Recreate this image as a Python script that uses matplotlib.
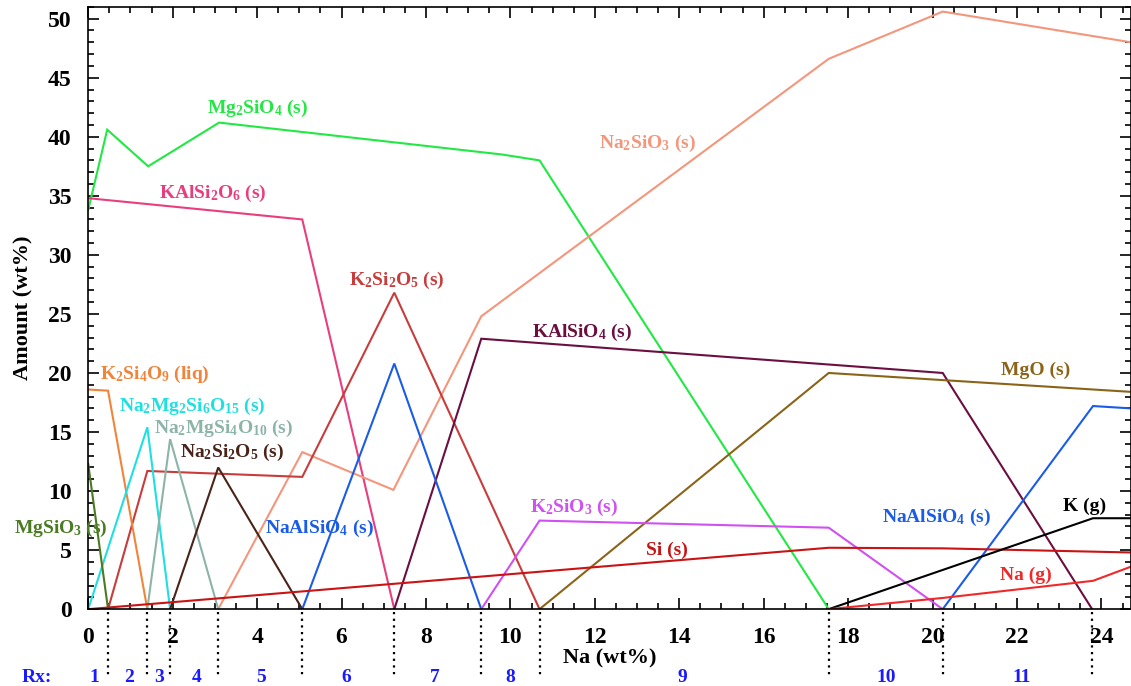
import matplotlib
matplotlib.use("Agg")
import matplotlib.pyplot as plt
import matplotlib.transforms as mtransforms

plt.rcParams['font.family'] = ['Liberation Serif', 'DejaVu Serif']
plt.rcParams['font.weight'] = 'bold'
plt.rcParams['mathtext.fontset'] = 'custom'
plt.rcParams['mathtext.rm'] = 'Liberation Serif:bold'
plt.rcParams['mathtext.bf'] = 'Liberation Serif:bold'
plt.rcParams['mathtext.it'] = 'Liberation Serif:bold'
plt.rcParams['mathtext.default'] = 'rm'

# ---- data (Na wt% vs amount wt%) ----
mg2sio4_x = [0.0, 0.45, 1.42, 3.10, 9.80, 10.69, 17.54]
mg2sio4_y = [33.8, 40.6, 37.5, 41.2, 38.5, 38.0, 0.0]

kalsi2o6_x = [0.0, 5.07, 7.25]
kalsi2o6_y = [34.8, 33.0, 0.0]

na2sio3_x = [3.08, 5.07, 7.23, 9.31, 17.54, 20.24, 24.7]
na2sio3_y = [0.0, 13.3, 10.1, 24.8, 46.6, 50.6, 48.0]

k2si2o5_x = [0.47, 1.40, 5.07, 7.25, 10.69]
k2si2o5_y = [0.0, 11.7, 11.2, 26.8, 0.0]

k2si4o9_x = [0.0, 0.47, 1.40]
k2si4o9_y = [18.6, 18.5, 0.0]

na2mg2si6o15_x = [0.0, 1.40, 1.94]
na2mg2si6o15_y = [0.0, 15.4, 0.0]

na2mgsi4o10_x = [1.40, 1.94, 3.08]
na2mgsi4o10_y = [0.0, 14.4, 0.0]

na2si2o5_x = [1.94, 3.08, 5.07]
na2si2o5_y = [0.0, 12.0, 0.0]

mgsio3_x = [0.0, 0.47]
mgsio3_y = [12.3, 0.0]

naalsio4_a_x = [5.07, 7.25, 9.31]
naalsio4_a_y = [0.0, 20.8, 0.0]
naalsio4_b_x = [20.24, 23.80, 24.7]
naalsio4_b_y = [0.0, 17.2, 17.0]

kalsio4_x = [7.25, 9.31, 20.24, 23.78]
kalsio4_y = [0.0, 22.9, 20.0, 0.0]

k2sio3_x = [9.31, 10.69, 17.54, 20.24]
k2sio3_y = [0.0, 7.5, 6.9, 0.0]

si_x = [0.0, 17.54, 20.24, 24.7]
si_y = [0.0, 5.2, 5.15, 4.8]

mgo_x = [10.69, 17.54, 24.7]
mgo_y = [0.0, 20.0, 18.4]

k_g_x = [17.54, 23.80, 24.7]
k_g_y = [0.0, 7.7, 7.7]

na_g_x = [17.54, 20.24, 23.80, 24.7]
na_g_y = [0.0, 0.95, 2.4, 3.6]

rx_bounds = [0.47, 1.40, 1.94, 3.08, 5.07, 7.24, 9.31, 10.69, 17.54, 20.24, 23.78]
rx_labels = ['1', '2', '3', '4', '5', '6', '7', '8', '9', '10', '11']
rx_label_x = [0.14, 0.97, 1.68, 2.56, 4.1, 6.11, 8.2, 10.0, 14.08, 18.9, 22.1]

x_ticks = [0, 2, 4, 6, 8, 10, 12, 14, 16, 18, 20, 22, 24]
y_ticks = [0, 5, 10, 15, 20, 25, 30, 35, 40, 45, 50]

series = [
    (mg2sio4_x, mg2sio4_y, '#22e844', r'Mg$_2$SiO$_4$ (s)', 4.0, 42.4),
    (kalsi2o6_x, kalsi2o6_y, '#e83e7e', r'KAlSi$_2$O$_6$ (s)', 2.94, 35.2),
    (na2sio3_x, na2sio3_y, '#f4967c', r'Na$_2$SiO$_3$ (s)', 13.25, 39.4),
    (k2si2o5_x, k2si2o5_y, '#c83c3c', r'K$_2$Si$_2$O$_5$ (s)', 7.3, 27.8),
    (kalsio4_x, kalsio4_y, '#6a0f40', r'KAlSiO$_4$ (s)', 11.7, 23.4),
    (mgo_x, mgo_y, '#8a6418', r'MgO (s)', 22.44, 20.2),
    (k2si4o9_x, k2si4o9_y, '#f0843a', r'K$_2$Si$_4$O$_9$ (liq)', 1.59, 19.9),
    (na2mg2si6o15_x, na2mg2si6o15_y, '#1ee0e0', r'Na$_2$Mg$_2$Si$_6$O$_{15}$ (s)', 2.46, 17.2),
    (na2mgsi4o10_x, na2mgsi4o10_y, '#8cb4a8', r'Na$_2$MgSi$_4$O$_{10}$ (s)', 3.2, 15.3),
    (na2si2o5_x, na2si2o5_y, '#4a2418', r'Na$_2$Si$_2$O$_5$ (s)', 3.41, 13.3),
    (mgsio3_x, mgsio3_y, '#4a7a22', r'MgSiO$_3$ (s)', -0.64, 6.8),
    (naalsio4_a_x, naalsio4_a_y, '#1a5ce8', r'NaAlSiO$_4$ (s)', 5.47, 6.8),
    (naalsio4_b_x, naalsio4_b_y, '#1a5ce8', r'NaAlSiO$_4$ (s)', 20.1, 7.8),
    (k2sio3_x, k2sio3_y, '#d050f0', r'K$_2$SiO$_3$ (s)', 11.5, 8.6),
    (si_x, si_y, '#c81414', r'Si (s)', 13.7, 5.0),
    (k_g_x, k_g_y, '#000000', r'K (g)', 23.6, 8.7),
    (na_g_x, na_g_y, '#f02828', r'Na (g)', 22.2, 2.9),
]

fig = plt.figure(figsize=(11.31, 6.86), dpi=100)
ax = fig.add_axes([0.078, 0.112, 0.922, 0.878])

for xs, ys, col, lab, lx, ly in series:
    ax.plot(xs, ys, color=col, lw=1.5, solid_joinstyle='miter')
    ax.text(lx, ly, lab, color=col, fontsize=14, fontweight='bold',
            ha='center', va='center', clip_on=False)

ax.set_xlim(0, 24.7)
ax.set_ylim(0, 51)
ax.set_xticks(x_ticks)
ax.set_yticks(y_ticks)
ax.set_xticks([i * 0.5 for i in range(0, 50)], minor=True)
ax.set_yticks(list(range(0, 52)), minor=True)
ax.tick_params(which='both', direction='in', top=True, right=True, width=1.2)
ax.tick_params(which='major', length=8, labelsize=17)
ax.tick_params(axis='x', which='major', pad=13)
ax.tick_params(axis='y', which='major', pad=12)
ax.tick_params(which='minor', length=4)
for lbl in ax.get_xticklabels() + ax.get_yticklabels():
    lbl.set_fontweight('bold')
for sp in ax.spines.values():
    sp.set_linewidth(1.2)

ax.set_ylabel('Amount (wt%)', fontsize=16, fontweight='bold', labelpad=10)
ax.set_xlabel('Na (wt%)', fontsize=16, fontweight='bold', labelpad=0)

trans = mtransforms.blended_transform_factory(ax.transData, ax.transAxes)
for b in rx_bounds:
    ax.plot([b, b], [-0.005, -0.112], transform=trans, color='black',
            lw=1.6, ls=(0, (1, 2)), clip_on=False)
ax.text(-1.21, -0.114, 'Rx:', transform=trans, color='#1a1aff', fontsize=14,
        fontweight='bold', ha='center', va='center', clip_on=False)
for lx, lab in zip(rx_label_x, rx_labels):
    ax.text(lx, -0.114, lab, transform=trans, color='#1a1aff', fontsize=14,
            fontweight='bold', ha='center', va='center', clip_on=False)

fig.savefig('out.png', dpi=100)
